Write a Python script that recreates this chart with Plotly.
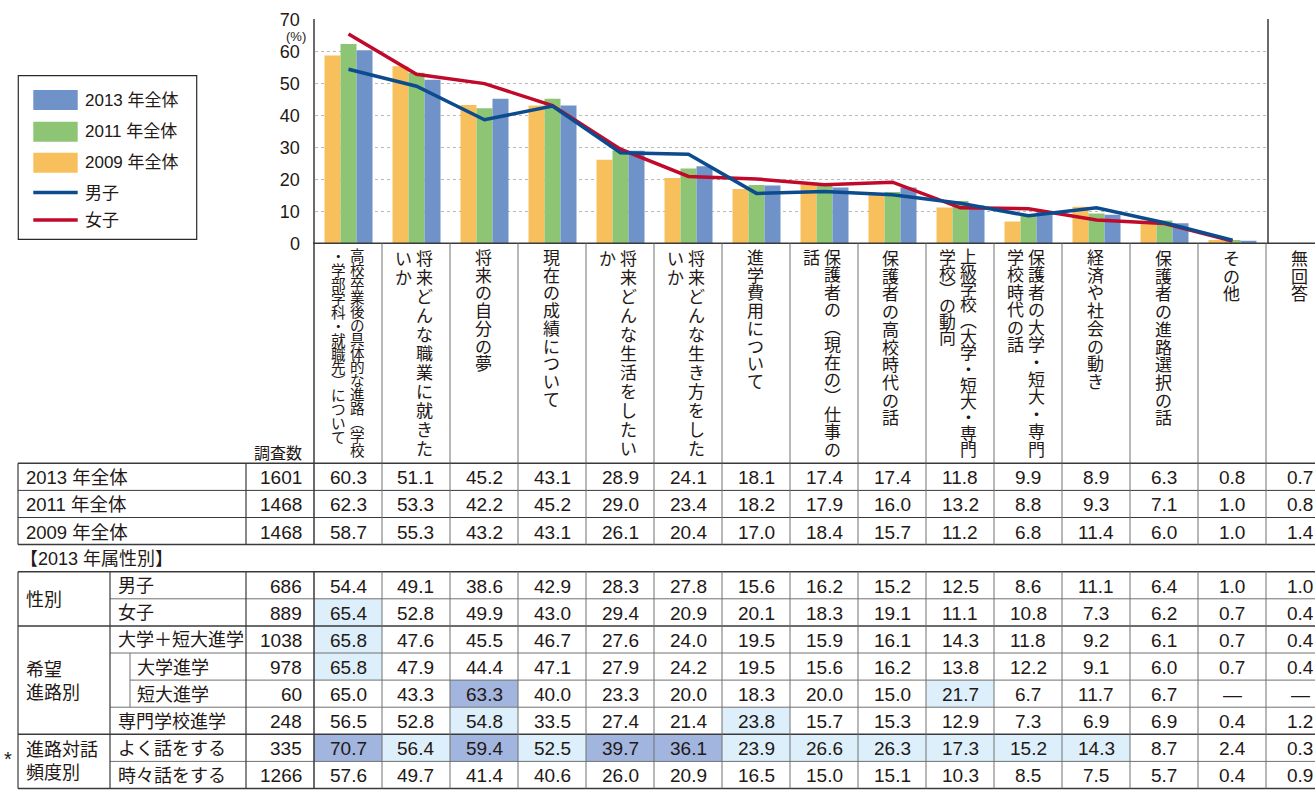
import plotly.graph_objects as go

# ---------------- data ----------------
categories = [
    "高校卒業後の具体的な進路（学校・学部学科・就職先）について",
    "将来どんな職業に就きたいか",
    "将来の自分の夢",
    "現在の成績について",
    "将来どんな生活をしたいか",
    "将来どんな生き方をしたいか",
    "進学費用について",
    "保護者の（現在の）仕事の話",
    "保護者の高校時代の話",
    "上級学校（大学・短大・専門学校）の動向",
    "保護者の大学・短大・専門学校時代の話",
    "経済や社会の動き",
    "保護者の進路選択の話",
    "その他",
    "無回答",
]
label_break = [15, 11, None, None, 11, 11, None, 12, None, 13, 12, None, None, None, None]

y2013 = [60.3, 51.1, 45.2, 43.1, 28.9, 24.1, 18.1, 17.4, 17.4, 11.8, 9.9, 8.9, 6.3, 0.8, 0.7]
y2011 = [62.3, 53.3, 42.2, 45.2, 29.0, 23.4, 18.2, 17.9, 16.0, 13.2, 8.8, 9.3, 7.1, 1.0, 0.8]
y2009 = [58.7, 55.3, 43.2, 43.1, 26.1, 20.4, 17.0, 18.4, 15.7, 11.2, 6.8, 11.4, 6.0, 1.0, 1.4]
male = [54.4, 49.1, 38.6, 42.9, 28.3, 27.8, 15.6, 16.2, 15.2, 12.5, 8.6, 11.1, 6.4, 1.0, 1.0]
female = [65.4, 52.8, 49.9, 43.0, 29.4, 20.9, 20.1, 18.3, 19.1, 11.1, 10.8, 7.3, 6.2, 0.7, 0.4]
uni_jc = [65.8, 47.6, 45.5, 46.7, 27.6, 24.0, 19.5, 15.9, 16.1, 14.3, 11.8, 9.2, 6.1, 0.7, 0.4]
uni = [65.8, 47.9, 44.4, 47.1, 27.9, 24.2, 19.5, 15.6, 16.2, 13.8, 12.2, 9.1, 6.0, 0.7, 0.4]
jc = [65.0, 43.3, 63.3, 40.0, 23.3, 20.0, 18.3, 20.0, 15.0, 21.7, 6.7, 11.7, 6.7, None, None]
vocational = [56.5, 52.8, 54.8, 33.5, 27.4, 21.4, 23.8, 15.7, 15.3, 12.9, 7.3, 6.9, 6.9, 0.4, 1.2]
often = [70.7, 56.4, 59.4, 52.5, 39.7, 36.1, 23.9, 26.6, 26.3, 17.3, 15.2, 14.3, 8.7, 2.4, 0.3]
sometimes = [57.6, 49.7, 41.4, 40.6, 26.0, 20.9, 16.5, 15.0, 15.1, 10.3, 8.5, 7.5, 5.7, 0.4, 0.9]

totals_labels = ["2013 年全体", "2011 年全体", "2009 年全体"]
totals_n = [1601, 1468, 1468]
attr_labels = ["男子", "女子", "大学＋短大進学", "大学進学", "短大進学", "専門学校進学", "よく話をする", "時々話をする"]
attr_n = [686, 889, 1038, 978, 60, 248, 335, 1266]
group_labels = ["性別", "希望<br>進路別", "進路対話<br>頻度別"]
# highlight level per attribute row (0 none, 1 light, 2 dark)
highlight = [
    [0] * 15,
    [1] + [0] * 14,
    [1] + [0] * 14,
    [1] + [0] * 14,
    [0, 0, 2, 0, 0, 0, 0, 0, 0, 1, 0, 0, 0, 0, 0],
    [0, 0, 1, 0, 0, 0, 1, 0, 0, 0, 0, 0, 0, 0, 0],
    [2, 1, 2, 1, 2, 2, 1, 1, 1, 1, 1, 1, 0, 0, 0],
    [0] * 15,
]
yticks = [0, 10, 20, 30, 40, 50, 60, 70]

# ---------------- style ----------------
W, H = 1315, 790
C09, C11, C13 = "#F8C05C", "#8DC575", "#6F92C9"
BLUE, RED = "#0C4C8E", "#C00A2C"
TXT = "#231815"
LC = "#707070"
LC_D = "#3a3a3a"
HL1, HL2 = "#DDEFFA", "#A2B5DF"
LAT = "Liberation Sans, Noto Sans CJK JP"
CJK = "Noto Sans CJK JP"


def px(x):
    return x / W


def py(y):
    return 1 - y / H


nchart = 14
xs = list(range(nchart))

fig = go.Figure()
fig.add_bar(x=xs, y=y2009[:nchart], marker=dict(color=C09, line_width=0), name="2009 年全体")
fig.add_bar(x=xs, y=y2011[:nchart], marker=dict(color=C11, line_width=0), name="2011 年全体")
fig.add_bar(x=xs, y=y2013[:nchart], marker=dict(color=C13, line_width=0), name="2013 年全体")
fig.add_scatter(x=xs, y=female[:nchart], mode="lines", line=dict(color=RED, width=3.5), name="女子")
fig.add_scatter(x=xs, y=male[:nchart], mode="lines", line=dict(color=BLUE, width=3.5), name="男子")

X0, X1 = 314.5, 1266.5
Y0, Y70 = 243.3, 19.3

fig.update_layout(
    width=W, height=H, autosize=False,
    margin=dict(l=0, r=0, t=0, b=0, pad=0, autoexpand=False),
    paper_bgcolor="white", plot_bgcolor="white",
    barmode="group", bargap=0.294, bargroupgap=0,
    showlegend=False,
    xaxis=dict(domain=[px(X0), px(X1)], range=[-0.5, nchart - 0.5], showticklabels=False,
               showgrid=False, zeroline=False, showline=False, fixedrange=True),
    yaxis=dict(domain=[py(Y0), py(Y70)], range=[0, 70], tickvals=yticks,
               showgrid=True, gridcolor="#b8b8b8", griddash="dot", gridwidth=1,
               zeroline=False, showline=True, linecolor="#6b6b6b", linewidth=2, mirror=True,
               ticks="", ticklabelstandoff=9,
               tickfont=dict(size=18, family=LAT, color=TXT), fixedrange=True),
)

shapes = []
annotations = []


def line(x0, y0, x1, y1, color=LC, w=1):
    shapes.append(dict(type="line", xref="paper", yref="paper", x0=px(x0), y0=py(y0),
                       x1=px(x1), y1=py(y1), line=dict(color=color, width=w)))


def rect(x0, y0, x1, y1, fill, lc=None, lw=0):
    shapes.append(dict(type="rect", xref="paper", yref="paper", x0=px(x0), y0=py(y0),
                       x1=px(x1), y1=py(y1), fillcolor=fill,
                       line=dict(color=lc if lc else fill, width=lw)))


def text(x, y, s, size=18, anchor="center", family=LAT, color=TXT, yanchor="middle", align="center"):
    annotations.append(dict(x=px(x), y=py(y), xref="paper", yref="paper", text=s,
                            showarrow=False, xanchor=anchor, yanchor=yanchor, align=align,
                            font=dict(size=size, family=family, color=color),
                            borderpad=0, borderwidth=0))


# ---------------- legend (drawn box) ----------------
rect(18.3, 75.7, 196.7, 239.3, "rgba(0,0,0,0)", lc="#2b2b2b", lw=1.2)
for (yc, col, lab) in [(100, C13, "2013 年全体"), (131.7, C11, "2011 年全体"), (162.7, C09, "2009 年全体")]:
    rect(33.3, yc - 10, 77.7, yc + 10, col)
    text(85, yc, lab, size=17, anchor="left")
for (yc, col, lab) in [(192.5, BLUE, "男子"), (220, RED, "女子")]:
    line(33.3, yc, 77.7, yc, color=col, w=3.5)
    text(85, yc + 1, lab, size=17, anchor="left")

text(296, 36, "(%)", size=13, anchor="center")

# ---------------- table geometry ----------------
colx = [314 + 68 * i for i in range(16)]
ccx = [colx[i] + 34 for i in range(15)]
RH = 27.1
HDR_TOP = 243.3
M = [463.3 + RH * k for k in range(4)]
A = [571.7 + RH * k for k in range(9)]

# highlight fills
for r, row in enumerate(highlight):
    for c, lv in enumerate(row):
        if lv:
            rect(colx[c], A[r], colx[c + 1], A[r + 1], HL1 if lv == 1 else HL2)

# header lines
line(313, HDR_TOP, 1315, HDR_TOP, color=LC_D, w=1.5)
for i, x in enumerate(colx):
    line(x, HDR_TOP, x, M[0], color=LC_D if i == 0 else LC, w=1.5 if i == 0 else 1)

# main block lines
for k, y in enumerate(M):
    line(18, y, 1315, y, color=LC_D, w=1.5 if k in (0, 3) else 1)
for x in [18, 246]:
    line(x, M[0], x, M[3], color=LC_D, w=1.2)
for i, x in enumerate(colx):
    line(x, M[0], x, M[3], color=LC_D if i == 0 else LC, w=1.5 if i == 0 else 1)

# attribute block lines
hl_spec = [(18, 1.5, LC_D), (110, 1, LC), (18, 1.5, LC_D), (110, 1, LC), (130, 1, LC),
           (110, 1, LC), (18, 1.5, LC_D), (110, 1, LC), (18, 1.5, LC_D)]
for y, (xs0, w, c) in zip(A, hl_spec):
    line(xs0, y, 1315, y, color=c, w=w)
for x in [18, 110, 246]:
    line(x, A[0], x, A[8], color=LC_D, w=1.2)
line(130, A[3], 130, A[5], color=LC, w=1)
for i, x in enumerate(colx):
    line(x, A[0], x, A[8], color=LC_D if i == 0 else LC, w=1.5 if i == 0 else 1)

# ---------------- vertical category labels (one text block per column) ----------------
VMAP = {"（": "︵", "）": "︶"}
LABEL_TOP = 248
FULL_H = 209
for i, name in enumerate(categories):
    b = label_break[i]
    cols = [name] if b is None else [name[:b], name[b:]]
    pitch = 17.7 if b is None else FULL_H / len(cols[0])
    fs = min(17, pitch * 1.05)
    if len(cols) == 1:
        xcs = [ccx[i] - 1]
    elif i == 0:
        xcs = [ccx[i] + 9, ccx[i] - 10]
    else:
        xcs = [ccx[i] + 8.5, ccx[i] - 12.5]
    for xc, s in zip(xcs, cols):
        body = "<br>".join(
            "<span style='font-size:%.1fpx'>%s</span>" % (fs, VMAP.get(ch, ch)) for ch in s)
        text(xc, LABEL_TOP + len(s) * pitch / 2, body, size=pitch / 1.3, family=CJK)

text(302, 452, "調査数", size=16, anchor="right", family=CJK)


def fmt(v):
    return "—" if v is None else f"{v:.1f}"


# main block text
main_rows = [y2013, y2011, y2009]
for r in range(3):
    yc = (M[r] + M[r + 1]) / 2 + 1
    text(26, yc, totals_labels[r], size=18.5, anchor="left")
    text(302, yc, str(totals_n[r]), size=19, anchor="right")
    for c in range(15):
        text(ccx[c], yc, fmt(main_rows[r][c]), size=19)

text(20, 559, "【2013 年属性別】", size=18, anchor="left")

attr_rows = [male, female, uni_jc, uni, jc, vocational, often, sometimes]
sub_x = [118, 118, 118, 137, 137, 118, 118, 118]
for r in range(8):
    yc = (A[r] + A[r + 1]) / 2 + 1
    text(sub_x[r], yc, attr_labels[r], size=18, anchor="left")
    text(302, yc, str(attr_n[r]), size=19, anchor="right")
    for c in range(15):
        text(ccx[c], yc, fmt(attr_rows[r][c]), size=19)

text(26, (A[0] + A[2]) / 2 + 1, group_labels[0], size=18, anchor="left", align="left")
text(26, (A[2] + A[6]) / 2 + 1, group_labels[1], size=18, anchor="left", align="left")
text(26, (A[6] + A[8]) / 2, group_labels[2], size=18, anchor="left", align="left")
text(8, 759, "*", size=20, anchor="center")

fig.update_layout(shapes=shapes, annotations=annotations)
fig.write_html("out.html", post_script="document.body.style.margin='0';")
